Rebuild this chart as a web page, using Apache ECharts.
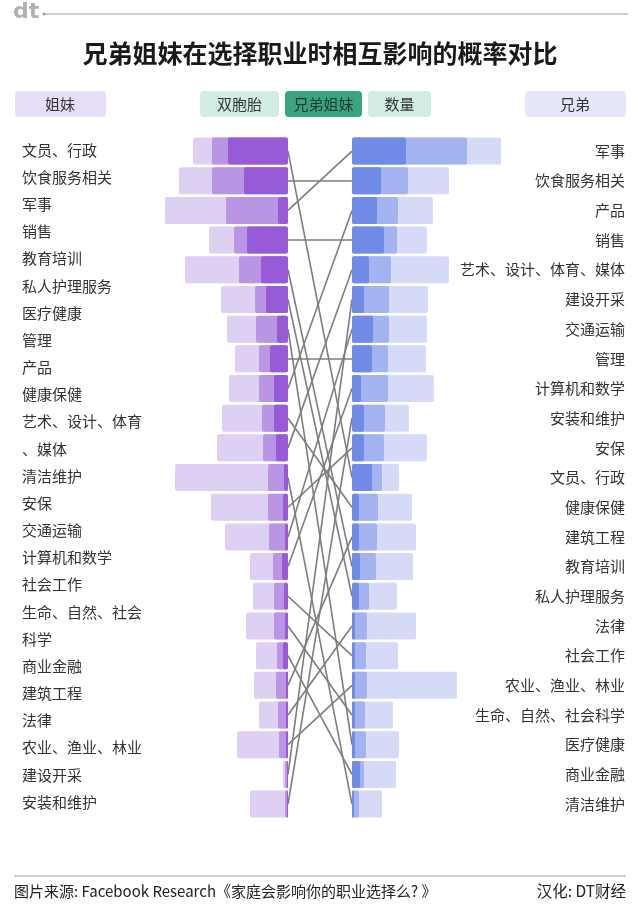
<!DOCTYPE html>
<html>
<head>
<meta charset="utf-8">
<script src="https://cdn.jsdelivr.net/npm/echarts@6/dist/echarts.min.js"></script>
<style>
  html, body { margin: 0; padding: 0; background: #fff; }
  #chart { width: 640px; height: 908px; }
</style>
</head>
<body>
<div id="chart"></div>
<script>
  // 姐妹 (left) — categories in display order, wrapped labels use \n
  var sisterCats = ['文员、行政', '饮食服务相关', '军事', '销售', '教育培训', '私人护理服务', '医疗健康', '管理', '产品', '健康保健',
    '艺术、设计、体育\n、媒体', '清洁维护', '安保', '交通运输', '计算机和数学', '社会工作', '生命、自然、社会\n科学', '商业金融',
    '建筑工程', '法律', '农业、渔业、林业', '建设开采', '安装和维护'];
  var sisterSiblings = [6.0, 4.4, 1.0, 4.1, 2.7, 2.2, 1.1, 1.8, 1.4, 1.4, 1.2, 0.4, 0.5, 0.3, 0.6, 0.4, 0.3, 0.5, 0.2, 0.2, 0.2, 0.1, 0.1];
  var sisterTwins = [7.6, 7.6, 6.2, 5.4, 4.9, 3.3, 3.2, 2.9, 2.9, 2.6, 2.5, 2.0, 2.0, 1.9, 1.5, 1.4, 1.4, 1.1, 1.2, 1.0, 0.9, 0.3, 0.3];
  var sisterCount = [9.5, 10.9, 12.3, 7.9, 10.3, 6.7, 6.1, 5.3, 5.9, 6.6, 7.1, 11.3, 7.7, 6.3, 3.8, 3.5, 4.2, 3.2, 3.4, 2.9, 5.1, 0.5, 3.8];

  // 兄弟 (right)
  var brotherCats = ['军事', '饮食服务相关', '产品', '销售', '艺术、设计、体育、媒体', '建设开采', '交通运输', '管理', '计算机和数学',
    '安装和维护', '安保', '文员、行政', '健康保健', '建筑工程', '教育培训', '私人护理服务', '法律', '社会工作', '农业、渔业、林业',
    '生命、自然、社会科学', '医疗健康', '商业金融', '清洁维护'];
  var brotherSiblings = [5.4, 2.9, 2.5, 3.2, 1.7, 1.2, 2.1, 2.0, 0.9, 1.2, 1.2, 2.0, 0.7, 0.7, 0.8, 0.7, 0.3, 0.3, 0.3, 0.3, 0.3, 0.8, 0.2];
  var brotherTwins = [11.5, 5.6, 4.6, 4.5, 3.9, 3.7, 3.7, 3.6, 3.6, 3.3, 3.2, 3.0, 2.6, 2.5, 2.4, 1.7, 1.5, 1.4, 1.5, 1.3, 1.4, 1.2, 0.7];
  var brotherCount = [14.9, 9.7, 8.1, 7.5, 9.7, 7.6, 7.5, 7.4, 8.2, 5.7, 7.5, 4.7, 6.0, 6.4, 6.1, 4.5, 6.4, 4.6, 10.5, 4.1, 4.7, 4.4, 3.0];

  var legendNames = ['双胞胎', '兄弟姐妹', '数量'];

  var font = 'Noto Sans CJK SC';
  var rowTop = 136.2, rowH = 682.7;

  // label lines for the left column (wrapped entries take two lines)
  var leftLines = [];
  sisterCats.forEach(function (c) { c.split('\n').forEach(function (s) { leftLines.push(s); }); });

  // connectors: left row -> same category on the right
  var links = sisterCats.map(function (c, i) {
    var j = brotherCats.indexOf(c.replace('\n', ''));
    return { coords: [[0, i], [1, j]] };
  });

  var sisterNames = sisterCats.map(function (c) { return c.replace('\n', ''); });

  function bars(name, data, color, gridIdx) {
    return {
      name: name, type: 'bar', data: data,
      xAxisIndex: gridIdx, yAxisIndex: gridIdx,
      barWidth: 27, barGap: '-100%',
      itemStyle: { color: color, borderRadius: 2 },
      silent: true, animation: false
    };
  }

  var myChart = echarts.init(document.getElementById('chart'));
  var option = {
    backgroundColor: '#fff',
    animation: false,
    title: {
      text: '兄弟姐妹在选择职业时相互影响的概率对比',
      left: 'center', top: 36,
      textStyle: { fontFamily: font, fontSize: 25, fontWeight: 'bold', color: '#1a1a1a' }
    },
    grid: [
      { left: 88, width: 200, top: rowTop, height: rowH },
      { left: 352, width: 200, top: rowTop, height: rowH },
      { left: 288, width: 64, top: rowTop, height: rowH },
      { left: 150, width: 10, top: 136.4, height: 679.2 }
    ],
    xAxis: [
      { gridIndex: 0, type: 'value', inverse: true, min: 0, max: 20, show: false },
      { gridIndex: 1, type: 'value', min: 0, max: 20, show: false },
      { gridIndex: 2, type: 'value', min: 0, max: 1, show: false },
      { gridIndex: 3, type: 'value', min: 0, max: 1, show: false }
    ],
    yAxis: [
      { gridIndex: 0, type: 'category', data: sisterNames, inverse: true, show: false },
      {
        gridIndex: 1, type: 'category', data: brotherCats, inverse: true, position: 'right',
        axisLine: { show: false }, axisTick: { show: false },
        axisLabel: { align: 'right', margin: 73, fontFamily: font, fontSize: 15, color: '#333' }
      },
      { gridIndex: 2, type: 'value', min: -0.5, max: 22.5, inverse: true, show: false },
      {
        gridIndex: 3, type: 'category', data: leftLines, inverse: true,
        axisLine: { show: false }, axisTick: { show: false },
        axisLabel: { align: 'left', margin: 128, fontFamily: font, fontSize: 15, color: '#333' }
      }
    ],
    series: [
      bars('数量', sisterCount, '#ddd0f3', 0),
      bars('双胞胎', sisterTwins, '#b995e4', 0),
      bars('兄弟姐妹', sisterSiblings, '#985ad6', 0),
      bars('数量', brotherCount, '#d5dbf6', 1),
      bars('双胞胎', brotherTwins, '#a2b3ef', 1),
      bars('兄弟姐妹', brotherSiblings, '#6f8be6', 1),
      {
        type: 'lines', coordinateSystem: 'cartesian2d', xAxisIndex: 2, yAxisIndex: 2,
        data: links, silent: true,
        lineStyle: { color: '#7d7d7d', width: 1.6, opacity: 1 }
      }
    ],
    graphic: [
      { type: 'text', left: 13, top: 1, style: { text: 'dt', fontFamily: 'DejaVu Sans', fontSize: 22, fontWeight: 'bold', fill: '#b0b0b0' } },
      { type: 'line', shape: { x1: 44, y1: 14, x2: 628, y2: 14 }, style: { stroke: '#a0a0a0', lineWidth: 1 } },
      { type: 'circle', shape: { cx: 44, cy: 14, r: 1.5 }, style: { fill: '#a0a0a0' } },

      { type: 'rect', shape: { x: 15, y: 91, width: 91, height: 26, r: 4 }, style: { fill: '#e6ddf6' } },
      { type: 'text', x: 60, y: 104, style: { text: '姐妹', align: 'center', verticalAlign: 'middle', fontFamily: font, fontSize: 15, fill: '#333' } },
      { type: 'rect', shape: { x: 525, y: 91, width: 101, height: 26, r: 4 }, style: { fill: '#e5e7f8' } },
      { type: 'text', x: 575, y: 104, style: { text: '兄弟', align: 'center', verticalAlign: 'middle', fontFamily: font, fontSize: 15, fill: '#333' } },

      { type: 'rect', shape: { x: 200, y: 91, width: 79, height: 26, r: 4 }, style: { fill: '#d2ece3' } },
      { type: 'text', x: 239.5, y: 104, style: { text: legendNames[0], align: 'center', verticalAlign: 'middle', fontFamily: font, fontSize: 15, fill: '#333' } },
      { type: 'rect', shape: { x: 285, y: 91, width: 77, height: 26, r: 4 }, style: { fill: '#3ba37f' } },
      { type: 'text', x: 323.5, y: 104, style: { text: legendNames[1], align: 'center', verticalAlign: 'middle', fontFamily: font, fontSize: 15, fill: '#1e3a31' } },
      { type: 'rect', shape: { x: 368, y: 91, width: 63, height: 26, r: 4 }, style: { fill: '#d2ece3' } },
      { type: 'text', x: 399.5, y: 104, style: { text: legendNames[2], align: 'center', verticalAlign: 'middle', fontFamily: font, fontSize: 15, fill: '#333' } },

      { type: 'line', shape: { x1: 14, y1: 876, x2: 626, y2: 876 }, style: { stroke: '#a0a0a0', lineWidth: 1 } },
      { type: 'text', x: 14, y: 891, style: { text: '图片来源: Facebook Research《家庭会影响你的职业选择么? 》', verticalAlign: 'middle', fontFamily: font, fontSize: 15, fill: '#222' } },
      { type: 'text', x: 626, y: 891, style: { text: '汉化: DT财经', align: 'right', verticalAlign: 'middle', fontFamily: font, fontSize: 15.5, fill: '#222' } }
    ]
  };
  myChart.setOption(option);
</script>
</body>
</html>
